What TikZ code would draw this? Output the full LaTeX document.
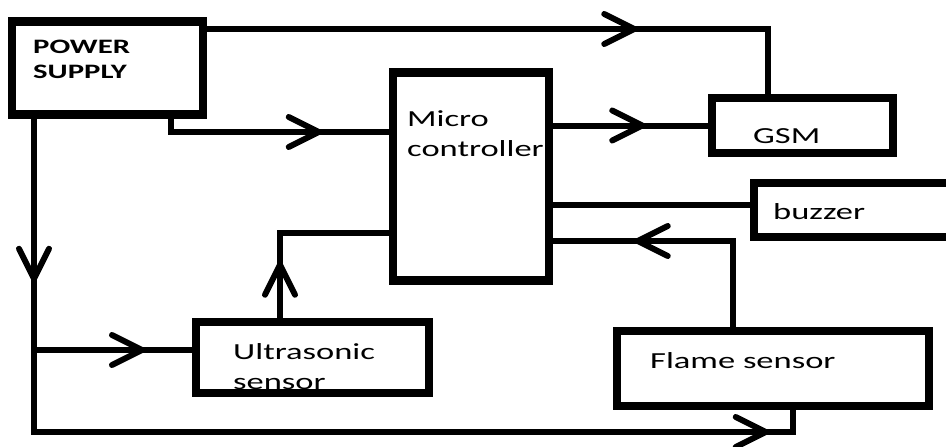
\documentclass[tikz,border=0pt]{standalone}
\usepackage{fontspec}
\setmainfont{Carlito}[FakeStretch=1.5]
\usetikzlibrary{arrows.meta, decorations.markings, calc}

\tikzset{
  box/.style={draw, line width=8.5pt, inner sep=0pt},
  lbl/.style={anchor=north west, inner sep=0pt, align=left, font=\fontsize{23}{30}\selectfont},
  wire/.style={line width=6pt},
  flowat/.style={postaction={decorate, decoration={markings,
      mark=at position #1 with {\arrow{Straight Barb[length=30pt, width=30pt, round]}}}}},
}

\begin{document}
\begin{tikzpicture}[x=1pt, y=-1pt]
    \useasboundingbox (0,0) rectangle (946,447);

    % Cac khoi
    \node[box, minimum width=191pt, minimum height=93pt] (ps) at (107.5,68) {};
    \node[box, minimum width=156pt, minimum height=208pt] (mc) at (471,176.5) {};
    \node[box, minimum width=181pt, minimum height=55pt] (gsm) at (802.5,125.5) {};
    \node[box, minimum width=211pt, minimum height=54pt] (bz) at (859.5,210) {};
    \node[box, minimum width=233pt, minimum height=71pt] (us) at (312.5,357.5) {};
    \node[box, minimum width=312pt, minimum height=75pt] (fl) at (773,368.5) {};

    % Nhan
    \node[lbl, font=\bfseries\fontsize{20.5}{25}\selectfont] (pslbl) at (33,40) {POWER\\SUPPLY};
    \node[lbl] (mclbl) at (407,110) {Micro\\controller};
    \node[lbl] (gsmlbl) at (753,128) {GSM};
    \node[lbl] (bzlbl) at (773,203) {buzzer};
    \node[lbl] (uslbl) at (233,343) {Ultrasonic\\sensor};
    \node[lbl] (fllbl) at (650,352) {Flame sensor};

    % Diem re nhanh
    \coordinate (gsmtap) at (768,29);
    \coordinate (pstap) at (171,132);
    \coordinate (fltap) at (733,241);
    \coordinate (ustap) at (280,233);
    \coordinate (psdown) at (34,432);
    \coordinate (usin) at (34,350);
    \coordinate (flin) at (793,432);

    % Day noi
    \draw[wire, flowat=430pt] (ps.east |- gsmtap) -- (gsmtap) -- (gsm.north -| gsmtap);
    \draw[wire, flowat=164pt] (pstap |- ps.south) -- (pstap) -- (mc.west |- pstap);
    \draw[wire, flowat=92pt] (mc.east |- gsm.west) -- (gsm.west);
    \draw[wire] (mc.east |- 0,205) -- (bz.west |- 0,205);
    \draw[wire, flowat=184pt] (fltap |- fl.north) -- (fltap) -- (mc.east |- fltap);
    \draw[wire, flowat=56pt] (ustap |- us.north) -- (ustap) -- (mc.west |- ustap);
    \draw[wire, flowat=163pt, flowat=1048pt] (psdown |- ps.south) -- (psdown) -- (flin) -- (flin |- fl.south);
    \draw[wire, flowat=111pt] (usin) -- (us.west |- usin);
\end{tikzpicture}
\end{document}
